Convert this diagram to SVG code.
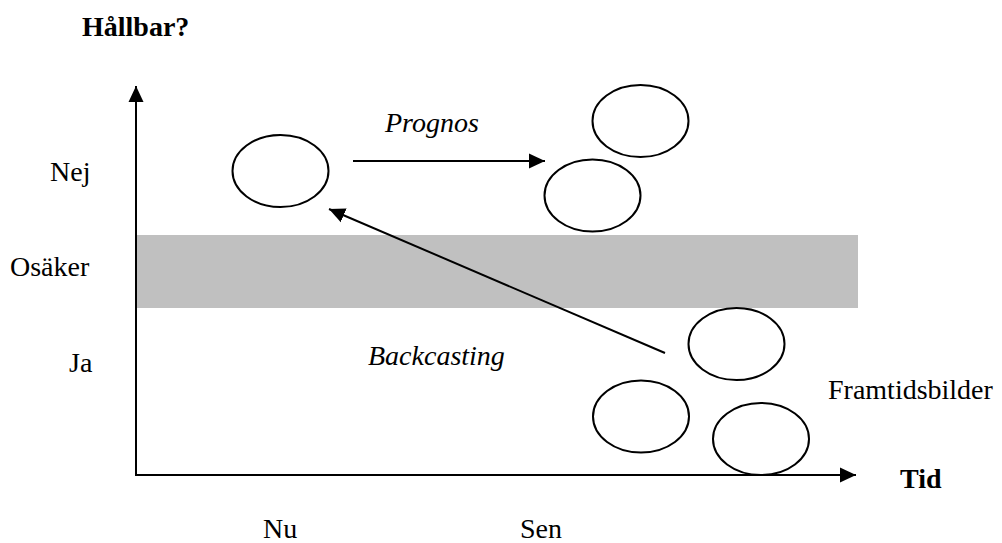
<svg xmlns="http://www.w3.org/2000/svg" width="1002" height="543" viewBox="0 0 1002 543">
<style>
text{font-size:28px;fill:#000}
.b{font-weight:bold}
.i{font-style:italic}
.e{fill:none;stroke:#000;stroke-width:2}
.c{stroke:#000;stroke-width:2;fill:none}
</style>
<defs>
<marker id="ah" markerUnits="userSpaceOnUse" markerWidth="16" markerHeight="16" refX="16" refY="7.5" orient="auto" viewBox="0 0 16 15">
<path d="M0,0 L16,7.5 L0,15 z" fill="#000"/>
</marker>
</defs>
<rect id="band" x="137" y="235" width="721" height="73" fill="#c0c0c0"/>
<g id="axes">
<line class="c" x1="136" y1="475" x2="136" y2="86" marker-end="url(#ah)"/>
<line class="c" x1="135" y1="475" x2="856" y2="475" marker-end="url(#ah)"/>
</g>
<g font-family="Liberation Serif, DejaVu Serif, serif">
<g id="labels">
<text class="b" x="82" y="36">Hållbar?</text>
<text x="50" y="181">Nej</text>
<text x="10" y="276">Osäker</text>
<text x="69" y="372">Ja</text>
<text class="b" x="900" y="488">Tid</text>
<text x="263" y="538">Nu</text>
<text x="520" y="538">Sen</text>
<text x="828" y="399">Framtidsbilder</text>
</g>
<g id="nu"><ellipse class="e" cx="280.5" cy="171" rx="48" ry="36"/></g>
<g id="prog1"><ellipse class="e" cx="640.5" cy="121" rx="48" ry="36"/></g>
<g id="prog2"><ellipse class="e" cx="592.5" cy="195.5" rx="48" ry="36"/></g>
<g id="fut1"><ellipse class="e" cx="736.5" cy="344" rx="48" ry="36"/></g>
<g id="fut2"><ellipse class="e" cx="641" cy="416.5" rx="48" ry="36"/></g>
<g id="fut3"><ellipse class="e" cx="761" cy="439" rx="48" ry="36"/></g>
<g id="connectors">
<line class="c" x1="353" y1="161" x2="545" y2="161" marker-end="url(#ah)"/>
<text class="i" x="385" y="132">Prognos</text>
<line class="c" x1="665" y1="353" x2="329" y2="209" marker-end="url(#ah)"/>
<text class="i" x="368" y="365">Backcasting</text>
</g>
</g>
</svg>
